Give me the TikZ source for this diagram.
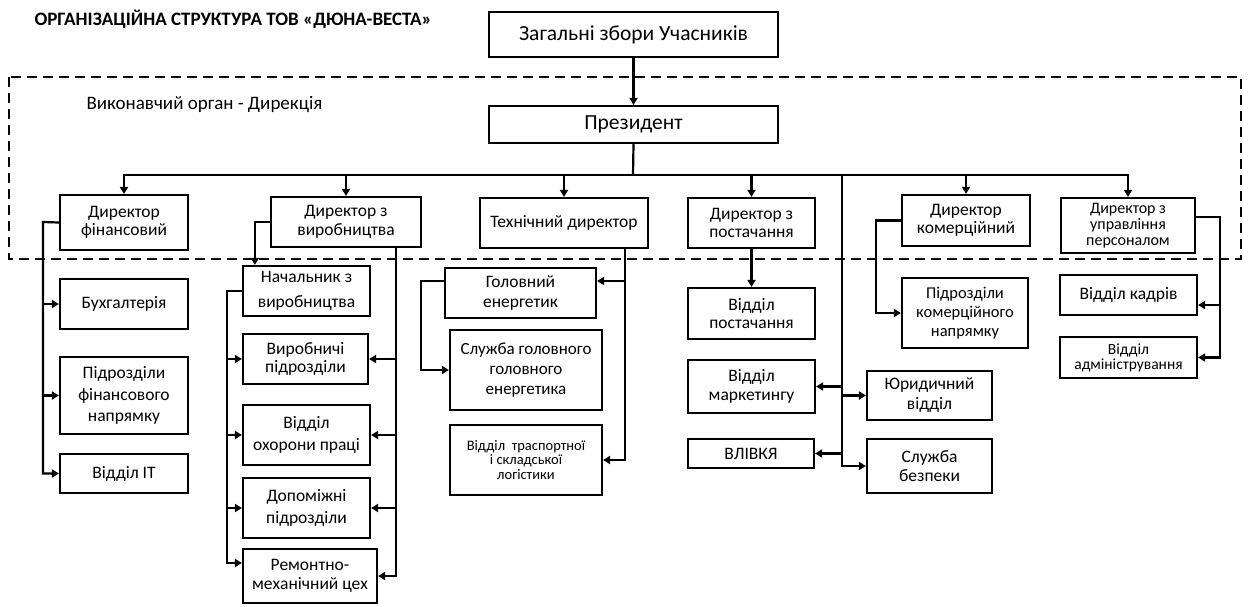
\documentclass[tikz,border=0pt]{standalone}
\usepackage{fontspec}
\setmainfont{Carlito}
\usetikzlibrary{arrows.meta,calc}
\newcommand\bxat[7][]{\node[bx,#1, minimum width={#5-#3}, minimum height={#6-#4}] (#2) at ({(#3+#5)/2},{(#4+#6)/2}) {#7};}
\begin{document}
\begin{tikzpicture}[x=1pt,y=-1pt,
  bx/.style={draw, fill=white, line width=2.2pt, rectangle, align=center, inner sep=0pt, font=\fontsize{17.5}{18.5}\selectfont},
  con/.style={line width=2.2pt},
  arr/.style={con, -{Triangle[length=7pt,width=8pt]}}]
\useasboundingbox (0,0) rectangle (1249,606);
% executive body frame
\draw[line width=2.2pt, dash pattern=on 10pt off 6pt] (9,77) rectangle (1241,259);
\node[anchor=west, font=\fontsize{19}{22}\selectfont\bfseries] (title) at (31,19) {ОРГАНІЗАЦІЙНА СТРУКТУРА ТОВ «ДЮНА-ВЕСТА»};
\node[anchor=west, font=\fontsize{19}{22}\selectfont] (exec) at (83,105) {Виконавчий орган - Дирекція};
% top
\bxat[font=\fontsize{21.5}{24}\selectfont]{top}{489}{12}{778}{57}{Загальні збори Учасників}
\bxat[font=\fontsize{21.5}{24}\selectfont]{pres}{489}{106}{778}{143}{Президент}
% directors
\bxat{dfin}{60}{195}{188}{250}{Директор\\фінансовий}
\bxat{dvyr}{271}{197}{421}{247}{Директор з\\виробництва}
\bxat{tech}{480}{198}{648}{248}{Технічний директор}
\bxat{dpost}{688}{198}{815}{248}{Директор з\\постачання}
\bxat{dkom}{902}{195}{1030}{246}{Директор\\комерційний}
\bxat[font=\fontsize{16}{16}\selectfont]{dper}{1061}{198}{1195}{253}{Директор з\\управління\\персоналом}
% finance
\bxat{buh}{60}{279}{188}{329}{Бухгалтерія}
\bxat[font=\fontsize{17.5}{21.5}\selectfont]{pfin}{60}{357}{188}{434}{Підрозділи\\фінансового\\напрямку}
\bxat{it}{60}{454}{188}{493}{Відділ IT}
% production
\bxat[font=\fontsize{17.5}{25}\selectfont]{nach}{243}{266}{370}{316}{Начальник з\\виробництва}
\bxat{vyrp}{243}{334}{368}{384}{Виробничі\\підрозділи}
\bxat[font=\fontsize{17.5}{22.5}\selectfont]{ohor}{243}{405}{370}{465}{Відділ\\охорони праці}
\bxat[font=\fontsize{17.5}{22}\selectfont]{dop}{243}{478}{370}{538}{Допоміжні\\підрозділи}
\bxat[font=\fontsize{17.5}{19.5}\selectfont]{rem}{243}{549}{377}{603}{Ремонтно-\\механічний цех}
% technical
\bxat[font=\fontsize{17.5}{20}\selectfont]{hol}{445}{268}{596}{318}{Головний\\енергетик}
\bxat[font=\fontsize{17}{20}\selectfont]{sluzh}{450}{330}{602}{410}{Служба головного\\головного\\енергетика}
\bxat[font=\fontsize{14.5}{14.5}\selectfont]{log}{450}{425}{602}{495}{Відділ~~траспортної\\і складської\\логістики}
% supply
\bxat{vpost}{688}{288}{815}{339}{Відділ\\постачання}
\bxat{mark}{688}{360}{815}{413}{Відділ\\маркетингу}
\bxat{vliv}{688}{439}{814}{468}{ВЛІВКЯ}
\bxat[font=\fontsize{17.5}{20}\selectfont]{yur}{867}{371}{992}{420}{Юридичний\\відділ}
\bxat{bezp}{867}{439}{992}{493}{Служба\\безпеки}
% commercial
\bxat[font=\fontsize{16.5}{19}\selectfont]{pkom}{902}{278}{1028}{348}{Підрозділи\\комерційного\\напрямку}
% personnel
\bxat{kadr}{1060}{275}{1197}{315}{Відділ кадрів}
\bxat[font=\fontsize{15.5}{15}\selectfont]{adm}{1060}{337}{1197}{378}{Відділ\\адміністрування}
% connectors
\coordinate (busC) at (633,175);
\draw[arr] (top.south) -- (pres.north);
\draw[con] (pres.south) -- (busC);
\foreach \n in {dfin,dvyr,tech,dpost,dkom,dper} \draw[arr] (busC) -| (\n.north);
% central line
\coordinate (vc) at (842,175);
\draw[arr] (vc) |- (bezp.west);
\draw[arr] (vc |- mark.east) -- (mark.east);
\draw[arr] (vc |- yur.west) -- (yur.west);
\draw[arr] (vc |- vliv.east) -- (vliv.east);
% finance
\coordinate (fx) at (43,222);
\draw[arr] (dfin.west) -- (fx) |- (it.west);
\draw[arr] (fx) |- (buh.west);
\draw[arr] (fx) |- (pfin.west);
% production
\draw[arr] (dvyr.west) -| ([xshift=13pt]nach.north west);
\coordinate (vr) at (396,247);
\draw[arr] (vr) |- (rem.east);
\draw[arr] (vr) |- (vyrp.east);
\draw[arr] (vr) |- (ohor.east);
\draw[arr] (vr) |- (dop.east);
\coordinate (nl) at (227,291);
\draw[arr] (nach.west) -- (nl) |- ([yshift=13pt]rem.west);
\draw[arr] (nl) |- (vyrp.west);
\draw[arr] (nl) |- (ohor.west);
\draw[arr] (nl) |- (dop.west);
% technical
\coordinate (tr) at (625,248);
\draw[arr] (tr) |- (log.east);
\draw[arr] (tr) |- ([yshift=12pt]hol.east);
\draw[arr] ([yshift=12pt]hol.west) -- ++(-23,0) |- (sluzh.west);
% supply
\draw[arr] (dpost.south) -- (vpost.north);
% commercial
\draw[arr] (dkom.west) -- ++(-25,0) |- (pkom.west);
% personnel
\coordinate (pr) at (1220,217);
\draw[arr] ([yshift=8.5pt]dper.east) -- (pr) |- (adm.east);
\draw[arr] (pr) |- ([yshift=-10pt]kadr.east);
\end{tikzpicture}
\end{document}
